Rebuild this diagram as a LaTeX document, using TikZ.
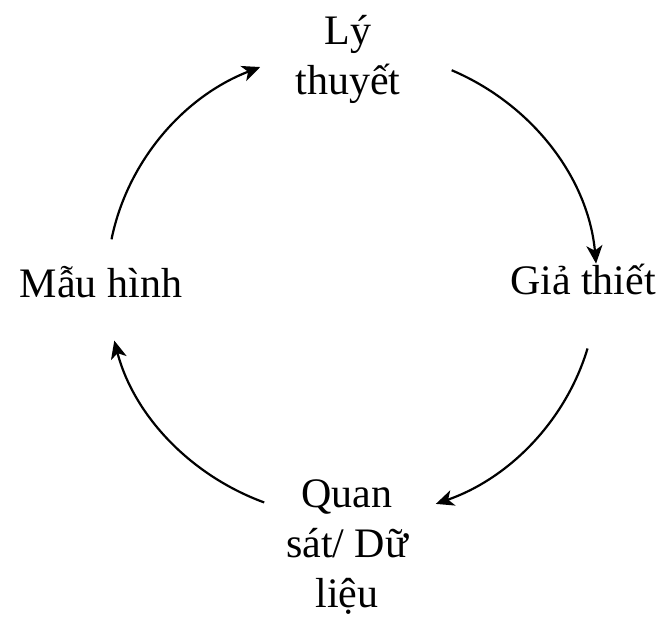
\documentclass[tikz,border=0pt]{standalone}
\usepackage{fontspec}
\setmainfont{Liberation Serif}
\usetikzlibrary{arrows.meta,calc}
\begin{document}
\begin{tikzpicture}[x=1pt,y=1pt,
  lbl/.style={font=\fontsize{42}{50}\selectfont, align=center, inner sep=0pt, anchor=base},
  cyc/.style={line width=2.2pt, -{Stealth[length=18pt,width=16pt,inset=5pt]}}]
\useasboundingbox (0,0) rectangle (664,620);
\node[lbl] (th) at (348,525) {Lý\\thuyết};
\node[lbl] (gt) at (583,325) {Giả thiết};
\node[lbl] (mh) at (101,322) {Mẫu hình};
\node[lbl] (qs) at (347,12) {Quan\\sát/ Dữ\\liệu};
\coordinate (c) at (352,336);
\coordinate (a1) at ($(c)+(169:245 and 234)$);
\coordinate (a2) at ($(c)+(66:245 and 234)$);
\coordinate (a3) at ($(c)+(-16:245 and 234)$);
\coordinate (a4) at ($(c)+(-111:245 and 234)$);
\draw[cyc] (a1) arc[start angle=169, end angle=112, x radius=245, y radius=234];
\draw[cyc] (a2) arc[start angle=66, end angle=5, x radius=245, y radius=234];
\draw[cyc] (a3) arc[start angle=-16, end angle=-70, x radius=245, y radius=234];
\draw[cyc] (a4) arc[start angle=-111, end angle=-166, x radius=245, y radius=234];
\end{tikzpicture}
\end{document}
